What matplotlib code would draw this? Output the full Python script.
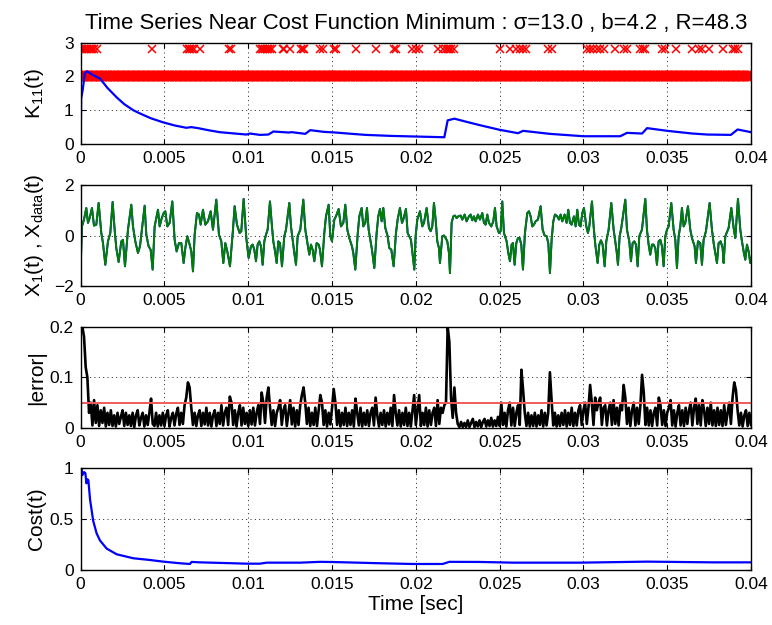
import numpy as np
import matplotlib.pyplot as plt

plt.rcParams['font.family'] = ['Liberation Sans', 'DejaVu Sans']
plt.rcParams['mathtext.fontset'] = 'custom'
plt.rcParams['mathtext.rm'] = 'Liberation Sans'
plt.rcParams['mathtext.it'] = 'Liberation Sans:italic'
plt.rcParams['mathtext.default'] = 'regular'

# ---- K11(t) ----
k_t_ms = [0, 0.03, 0.12, 0.25, 0.4, 0.7, 1.15, 1.6, 2.15, 2.6, 3.14, 3.6, 4.2, 4.93, 5.6, 6.3, 6.6, 7.0,
          7.6, 8.3, 9.2, 9.9, 10.1, 10.7, 11.2, 11.5, 12.4, 12.6, 13.1, 13.4, 13.7, 14.5, 15.2, 16.2, 17.0,
          18.5, 20.1, 21.7, 21.9, 22.3, 23.0, 23.8, 25.0, 26.1, 26.4, 28.0, 30.0, 32.2, 32.6, 33.5, 33.8,
          35.0, 36.5, 37.4, 38.8, 39.2, 40.0]
k_val = [0.0, 1.35, 1.6, 2.1, 2.15, 2.05, 1.94, 1.66, 1.38, 1.18, 1.0, 0.89, 0.76, 0.64, 0.55, 0.48, 0.5,
         0.47, 0.41, 0.35, 0.31, 0.28, 0.31, 0.27, 0.28, 0.37, 0.34, 0.35, 0.32, 0.30, 0.41, 0.36, 0.34, 0.30,
         0.27, 0.24, 0.22, 0.20, 0.70, 0.75, 0.66, 0.56, 0.42, 0.32, 0.39, 0.30, 0.23, 0.23, 0.33, 0.31,
         0.47, 0.39, 0.31, 0.28, 0.27, 0.43, 0.35]
# times (ms) of the flagged markers drawn at K = 2.8
flag_t_ms = [0.0, 0.1, 0.2, 0.3, 0.4, 0.5, 0.6, 0.7, 0.8, 0.95, 4.25,
             6.35, 6.45, 6.55, 6.65, 6.75, 7.1, 8.85, 8.95,
             10.7, 10.8, 10.9, 11.0, 11.1, 11.2, 11.3, 11.4, 12.05, 12.15, 12.5,
             13.15, 13.25, 13.35, 14.3, 14.45, 15.1, 15.25, 16.4, 17.6, 18.7, 18.8,
             19.8, 20.0, 20.2, 21.3, 21.6, 21.8, 21.9, 22.0, 22.1, 22.3,
             25.0, 25.6, 26.0, 26.2, 26.4, 26.6, 27.9, 28.1,
             30.2, 30.4, 30.6, 30.8, 31.0, 31.2, 31.9, 32.4, 32.6,
             33.4, 33.55, 33.7, 34.7, 34.85, 35.5, 36.5, 36.9, 37.1, 37.5, 38.3,
             38.9, 39.05, 39.2]
flag_level = 2.8
base_level = 2.0

# ---- X1(t), Xdata(t) ----
x_t_ms = [0.0, 0.078, 0.197, 0.336, 0.436, 0.535, 0.674, 0.794, 0.933, 1.072, 1.231, 1.331, 1.470, 1.629,
          1.768, 1.907, 2.027, 2.126, 2.265, 2.425, 2.524, 2.644, 2.822, 3.021, 3.121, 3.260, 3.419, 3.539,
          3.678, 3.817, 3.917, 4.056, 4.175, 4.294, 4.414, 4.613, 4.712, 4.812, 4.951, 5.050, 5.170, 5.309,
          5.468, 5.607, 5.726, 5.866, 6.005, 6.144, 6.244, 6.363, 6.502, 6.602, 6.701, 6.801, 6.940, 7.059,
          7.159, 7.298, 7.437, 7.596, 7.755, 7.895, 8.093, 8.252, 8.392, 8.511, 8.630, 8.750, 8.909, 9.088,
          9.187, 9.326, 9.486, 9.585, 9.724, 9.883, 10.022,
          10.162, 10.262, 10.361, 10.461, 10.560, 10.660, 10.759, 10.859, 10.958, 11.057, 11.157, 11.296,
          11.415, 11.495, 11.614, 11.694, 11.793, 11.893, 12.012, 12.151, 12.251, 12.450, 12.549, 12.649,
          12.748, 12.848, 12.947, 13.106, 13.285, 13.404, 13.544, 13.643, 13.743, 13.842, 13.941, 14.081,
          14.200, 14.280, 14.399, 14.538, 14.638, 14.797, 14.896, 14.996, 15.135, 15.234, 15.393, 15.533,
          15.672, 15.791, 15.911, 16.030, 16.189, 16.268, 16.388, 16.527, 16.627, 16.766, 16.865, 16.985,
          17.084, 17.184, 17.283, 17.382, 17.522, 17.661, 17.760, 17.860, 17.959, 18.059, 18.178, 18.317,
          18.417, 18.536, 18.675, 18.815, 18.914, 19.053, 19.173, 19.252, 19.411, 19.511, 19.610, 19.710,
          19.809, 19.909,
          19.987, 20.087, 20.246, 20.385, 20.485, 20.644, 20.783, 20.883, 20.982, 21.081, 21.181, 21.280,
          21.380, 21.439, 21.579, 21.678, 21.778, 21.877, 21.976, 22.036, 22.136, 22.235, 22.334, 22.434,
          22.533, 22.673, 22.772, 22.911, 23.031, 23.170, 23.269, 23.369, 23.468, 23.568, 23.707, 23.826,
          23.965, 24.065, 24.164, 24.264, 24.363, 24.502, 24.622, 24.721, 24.821, 24.960, 25.059, 25.159,
          25.258, 25.417, 25.517, 25.616, 25.716, 25.795, 25.895, 25.994, 26.094, 26.193, 26.292, 26.392,
          26.511, 26.651, 26.750, 26.850, 26.949, 27.048, 27.148, 27.287, 27.446, 27.566, 27.685, 27.804,
          27.904, 28.003, 28.103, 28.202, 28.302, 28.441, 28.540, 28.640, 28.739, 28.878, 28.998, 29.097,
          29.197, 29.296, 29.435, 29.535, 29.634, 29.734, 29.833, 29.933, 30.032,
          30.172, 30.271, 30.351, 30.510, 30.609, 30.709, 30.848, 30.947, 31.047, 31.146, 31.266, 31.365,
          31.504, 31.663, 31.803, 31.902, 31.982, 32.061, 32.161, 32.260, 32.499, 32.598, 32.737, 32.837,
          32.936, 33.036, 33.135, 33.235, 33.334, 33.493, 33.692, 33.792, 33.891, 33.990, 34.090, 34.189,
          34.289, 34.388, 34.488, 34.587, 34.687, 34.786, 34.886, 34.985, 35.084, 35.243, 35.383, 35.482,
          35.582, 35.681, 35.781, 35.880, 35.980, 36.079, 36.238, 36.377, 36.477, 36.636, 36.715, 36.835,
          36.974, 37.073, 37.173, 37.312, 37.531, 37.670, 37.770, 37.869, 37.969, 38.068, 38.187, 38.307,
          38.366, 38.466, 38.665, 38.824, 38.963, 39.062, 39.222, 39.361, 39.460, 39.560, 39.659, 39.759,
          39.858, 39.958, 40.0]
x_data = [-1.35, 0.36, 0.63, 1.09, 0.50, 0.69, 1.09, 0.39, 0.43, 1.29, 0.10, -0.30, -1.16, -0.23,
          0.10, 1.33, 0.23, -0.50, -1.05, -0.23, -0.17, -1.22, 0.23, 1.22, 0.36, -0.23, -0.69, -0.43,
          0.36, 1.18, 0.03, -0.43, -0.56, -1.35, 0.36, 1.02, 0.36, 0.63, 0.89, 0.96, 0.36, 0.50,
          1.35, -0.17, -0.63, -0.30, -0.30, -1.09, -0.50, -0.03, -0.36, -0.63, -1.42, 0.03, 0.89, 0.83,
          0.43, 1.02, 0.43, 0.56, 0.96, 0.23, 1.42, 0.03, -0.23, -1.09, -0.30, -0.63, -1.22, 0.23,
          1.16, 0.43, 0.10, 0.17, 1.45, -0.10, -0.89,
          -0.43, -0.36, -0.56, -1.02, -0.36, -0.23, -0.43, -1.16, -0.23, 0.03, 0.23, 1.35,
          0.36, -0.23, -0.69, -1.09, -0.23, -0.30, -1.22, -0.03, 0.23, 1.29, 0.36, -0.17,
          -0.69, -1.16, -0.03, 0.23, 1.42, 0.23, -0.36, -0.76, -0.36, -0.56, -1.02, -0.30,
          -0.36, -0.56, -1.22, 0.10, 0.76, 1.22, -0.03, -0.23, 0.63, 0.76, 1.05, 0.36,
          0.50, 1.22, 0.23, -0.10, -0.43, -0.69, -1.35, 0.03, 0.76, 1.09, 0.36, 0.50,
          1.09, 0.23, -0.17, -0.56, -1.29, 0.10, 0.76, 1.05, 0.56, 1.09, 0.30, -0.03,
          -0.50, -0.56, -1.22, 0.10, 0.63, 1.09, 0.50, 0.63, 1.05, 0.10, -0.03, -0.17,
          -0.76, -1.35,
          -0.03, 0.63, 0.96, 0.36, 0.50, 1.09, 0.30, 0.17, 0.36, 1.29, 0.63, -0.23,
          -0.50, -1.09, -0.03, 0.0, -0.10, -0.23, -0.69, -1.49, 0.50, 0.76, 0.79, 0.69,
          0.76, 0.79, 0.63, 0.83, 0.56, 0.76, 0.83, 0.60, 0.76, 0.56, 0.83, 0.63,
          0.89, 0.50, 0.43, 0.83, 0.50, 0.36, 0.56, 1.09, 0.36, 0.10, 0.17, 1.35,
          0.10, -0.23, -0.69, -1.02, -0.36, -0.30, -1.16, -0.30, -0.10, -0.10, -0.36, -1.35,
          0.10, 0.89, 0.96, 0.76, 0.36, 0.43, 0.56, 0.63, 1.16, 0.23, 0.0, -0.03,
          -0.30, -1.49, -0.17, 0.56, 0.83, 0.76, 0.63, 0.83, 0.56, 0.83, 0.50, 1.02,
          0.50, 0.43, 0.76, 0.36, 1.02, 0.43, 0.36, 0.89, 1.09,
          0.36, 0.10, 0.36, 1.35, 0.36, -0.36, -1.09, -0.36, -0.19, -0.36, -1.22, -0.23,
          0.23, 1.29, 0.23, -0.23, -0.63, -1.16, -0.03, 0.30, 1.42, 0.23, -0.23, -1.02,
          -0.30, -0.23, -0.36, -1.22, -0.03, 0.23, 1.45, 0.23, -0.36, -0.76, -0.36, -0.36,
          -0.50, -1.16, -0.23, -0.17, -0.43, -1.22, -0.03, 0.23, 0.36, 1.29, 0.23, -0.17,
          -1.29, -0.03, 0.36, 1.09, 0.36, 0.50, 1.16, 0.23, -0.10, -0.43, -1.09, -0.23,
          -0.30, -1.16, -0.17, 0.17, 1.29, 0.23, -0.30, -0.69, -1.09, -0.30, -0.23, -0.50,
          -1.09, -0.03, 0.30, 1.09, 0.30, -0.10, 1.45, 0.23, -0.23, -0.63, -0.96, -0.36,
          -0.63, -1.09, -0.90]
x1_start = -1.1  # model state starts slightly off the data

# ---- |error| sampled every 0.1 ms ----
err_vals = [
    0.20, 0.20, 0.18, 0.12, 0.10, 0.03, 0.05, 0.005, 0.055, 0.01,
    0.045, 0.004, 0.035, 0.01, 0.04, 0.003, 0.03, 0.006, 0.035, 0.004,
    0.025, 0.003, 0.03, 0.008, 0.022, 0.035, 0.004, 0.03, 0.006, 0.025,
    0.004, 0.03, 0.002, 0.025, 0.035, 0.005, 0.02, 0.03, 0.003, 0.025,
    0.006, 0.03, 0.058, 0.008, 0.004, 0.03, 0.003, 0.025, 0.005, 0.03,
    0.004, 0.025, 0.035, 0.003, 0.02, 0.03, 0.005, 0.028, 0.04, 0.006,
    0.03, 0.008, 0.045, 0.06, 0.09, 0.08, 0.04, 0.006, 0.03, 0.004,
    0.025, 0.035, 0.004, 0.03, 0.007, 0.04, 0.005, 0.03, 0.003, 0.025,
    0.035, 0.004, 0.03, 0.008, 0.045, 0.005, 0.03, 0.04, 0.006, 0.062,
    0.05, 0.006, 0.035, 0.003, 0.03, 0.045, 0.005, 0.04, 0.008, 0.03,
    0.004, 0.035, 0.007, 0.04, 0.005, 0.03, 0.045, 0.008, 0.07, 0.05,
    0.01, 0.06, 0.08, 0.04, 0.006, 0.035, 0.004, 0.03, 0.04, 0.055,
    0.006, 0.035, 0.045, 0.004, 0.03, 0.055, 0.007, 0.04, 0.003, 0.035,
    0.006, 0.045, 0.065, 0.08, 0.05, 0.008, 0.04, 0.004, 0.03, 0.006,
    0.04, 0.004, 0.035, 0.065, 0.05, 0.006, 0.035, 0.003, 0.03, 0.007,
    0.04, 0.077, 0.05, 0.006, 0.035, 0.003, 0.03, 0.006, 0.04, 0.004,
    0.03, 0.006, 0.035, 0.003, 0.058, 0.03, 0.005, 0.04, 0.003, 0.03,
    0.006, 0.035, 0.004, 0.03, 0.04, 0.005, 0.06, 0.025, 0.003, 0.03,
    0.006, 0.035, 0.003, 0.03, 0.007, 0.04, 0.004, 0.065, 0.03, 0.005,
    0.035, 0.003, 0.03, 0.006, 0.04, 0.004, 0.03, 0.003, 0.035, 0.065,
    0.006, 0.035, 0.065, 0.004, 0.03, 0.006, 0.04, 0.003, 0.035, 0.006,
    0.03, 0.04, 0.004, 0.055, 0.008, 0.04, 0.03, 0.045, 0.05, 0.20,
    0.17, 0.06, 0.02, 0.08, 0.03, 0.008, 0.002, 0.012, 0.002, 0.01,
    0.002, 0.015, 0.002, 0.01, 0.018, 0.002, 0.012, 0.003, 0.015, 0.002,
    0.012, 0.018, 0.003, 0.015, 0.004, 0.02, 0.003, 0.015, 0.004, 0.022,
    0.004, 0.05, 0.006, 0.03, 0.003, 0.035, 0.05, 0.005, 0.04, 0.004,
    0.03, 0.045, 0.006, 0.115, 0.075, 0.03, 0.004, 0.03, 0.003, 0.025,
    0.004, 0.03, 0.003, 0.025, 0.006, 0.035, 0.003, 0.03, 0.005, 0.03,
    0.11, 0.055, 0.005, 0.03, 0.003, 0.025, 0.004, 0.03, 0.006, 0.035,
    0.003, 0.03, 0.006, 0.04, 0.004, 0.03, 0.005, 0.035, 0.045, 0.006,
    0.035, 0.05, 0.008, 0.04, 0.085, 0.05, 0.006, 0.06, 0.035, 0.05,
    0.06, 0.006, 0.04, 0.045, 0.005, 0.035, 0.05, 0.006, 0.055, 0.008,
    0.04, 0.005, 0.045, 0.035, 0.085, 0.06, 0.008, 0.04, 0.004, 0.035,
    0.05, 0.005, 0.04, 0.008, 0.045, 0.105, 0.07, 0.006, 0.04, 0.005,
    0.035, 0.004, 0.03, 0.04, 0.005, 0.06, 0.045, 0.006, 0.035, 0.004,
    0.03, 0.04, 0.055, 0.005, 0.035, 0.003, 0.03, 0.045, 0.005, 0.035,
    0.004, 0.04, 0.008, 0.035, 0.05, 0.005, 0.04, 0.058, 0.008, 0.045,
    0.005, 0.055, 0.035, 0.004, 0.04, 0.008, 0.05, 0.005, 0.035, 0.004,
    0.04, 0.006, 0.035, 0.004, 0.045, 0.006, 0.03, 0.05, 0.008, 0.06,
    0.09, 0.075, 0.035, 0.005, 0.03, 0.003, 0.025, 0.035, 0.004, 0.03,
    0.006]
err_threshold = 0.05

# ---- Cost(t) ----
c_t_ms = [0, 0.03, 0.1, 0.2, 0.28, 0.34, 0.4, 0.46, 0.56, 0.75, 0.95, 1.15, 1.55, 2.15, 3.14, 4.14, 4.93,
          5.93, 6.52, 6.62, 7.12, 9.1, 9.9, 10.7, 11.1, 13.1, 14.3, 15.1, 17.9, 19.8, 21.6, 22.0, 23.8,
          25.8, 29.8, 33.8, 37.7, 40.0]
c_val = [0.74, 1.0, 0.93, 0.96, 0.95, 0.85, 0.89, 0.88, 0.69, 0.48, 0.36, 0.29, 0.21, 0.154, 0.115, 0.098,
         0.082, 0.066, 0.059, 0.079, 0.075, 0.066, 0.062, 0.062, 0.072, 0.072, 0.080, 0.078, 0.066, 0.059,
         0.059, 0.080, 0.079, 0.072, 0.072, 0.082, 0.075, 0.075]

# --------------------------------------------------------------------------
k_t = np.array(k_t_ms) / 1000
flag_t = np.array(flag_t_ms) / 1000
x_t = np.array(x_t_ms) / 1000
x1 = [x1_start] + x_data[1:]
err_t = np.arange(len(err_vals)) * 1e-4
c_t = np.array(c_t_ms) / 1000

fig = plt.figure(figsize=(7.72, 6.25), dpi=100)
L, W = 0.1045, 0.8683
ax1 = fig.add_axes([L, 0.7696, W, 0.1621])
ax2 = fig.add_axes([L, 0.5424, W, 0.1616])
ax3 = fig.add_axes([L, 0.3152, W, 0.1621])
ax4 = fig.add_axes([L, 0.0880, W, 0.1632])

ax1.plot(err_t, [base_level] * len(err_t), 'x', color='red', ms=7, mew=1.6)
ax1.plot(flag_t, [flag_level] * len(flag_t), 'x', color='red', ms=5.5, mew=1.1)
ax1.plot(k_t, k_val, color='blue', lw=1.6)
ax1.set_ylim(0, 3)
ax1.set_yticks([0, 1, 2, 3])
ax1.set_ylabel('K$_{11}$(t)')
ax1.set_title('Time Series Near Cost Function Minimum : σ=13.0 , b=4.2 , R=48.3', fontsize=15.9, pad=10)

ax2.plot(x_t, x1, color='blue', lw=1.4)
ax2.plot(x_t, x_data, color='#008000', lw=1.4)
ax2.set_ylim(-2, 2)
ax2.set_yticks([-2, 0, 2])
ax2.set_ylabel('X$_1$(t) , X$_{data}$(t)')

ax3.plot(err_t, err_vals, color='black', lw=1.9)
ax3.axhline(err_threshold, color='#f25a5a', lw=1.4)
ax3.set_ylim(0, 0.2)
ax3.set_yticks([0, 0.1, 0.2])
ax3.set_yticklabels(['0', '0.1', '0.2'])
ax3.set_ylabel('|error|')

ax4.plot(c_t, c_val, color='blue', lw=1.6)
ax4.set_ylim(0, 1)
ax4.set_yticks([0, 0.5, 1])
ax4.set_yticklabels(['0', '0.5', '1'])
ax4.set_ylabel('Cost(t)')
ax4.set_xlabel('Time [sec]', fontsize=15, labelpad=2)

xt = [0, 0.005, 0.01, 0.015, 0.02, 0.025, 0.03, 0.035, 0.04]
xl = ['0', '0.005', '0.01', '0.015', '0.02', '0.025', '0.03', '0.035', '0.04']
for ax in (ax1, ax2, ax3, ax4):
    ax.set_xlim(0, 0.04)
    ax.set_xticks(xt)
    ax.set_xticklabels(xl)
    ax.grid(True, color='black', lw=0.6, ls=(0, (1.2, 4)))
    ax.tick_params(direction='in', top=True, right=True, length=3.5, width=0.8, labelsize=12.5, pad=5)
    ax.yaxis.label.set_size(15)
    ax.yaxis.set_label_coords(-0.052, 0.5)
    for s in ax.spines.values():
        s.set_linewidth(1.0)

fig.savefig('out.png', dpi=100)
